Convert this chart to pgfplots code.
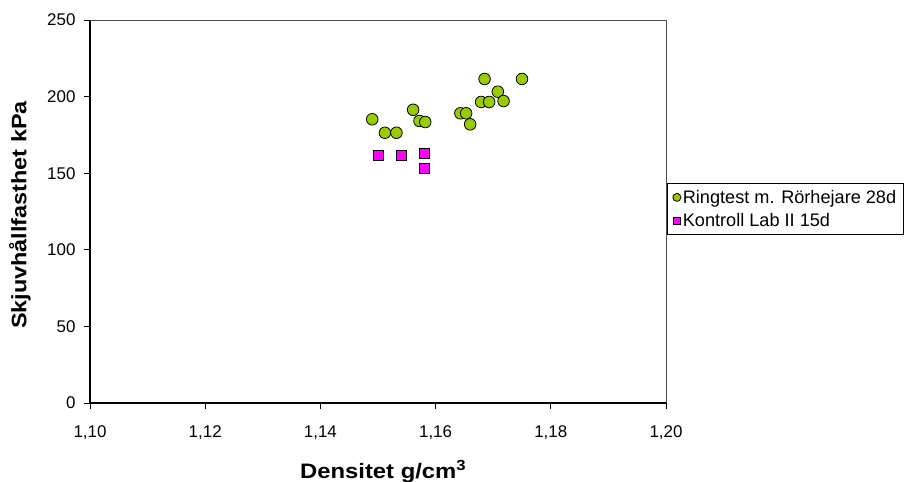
\documentclass[border=0pt]{standalone}
\usepackage{pgfplots}
\pgfplotsset{compat=1.18}
\usepackage{fontspec}
\setmainfont{Liberation Sans}
\definecolor{cgreen}{RGB}{153,204,0}
\definecolor{cmag}{RGB}{255,0,255}
\begin{document}
\begin{tikzpicture}
\begin{axis}[
  at={(0,0)}, anchor=south west,
  width=576bp, height=383bp, scale only axis,
  xmin=1.10, xmax=1.20, ymin=0, ymax=250,
  xtick={1.10,1.12,1.14,1.16,1.18,1.20},
  ytick={0,50,100,150,200,250},
  axis x line*=bottom, axis y line*=left,
  axis line style={black, line width=1.3bp, -},
  tick style={black, line width=0.8bp},
  tick align=outside, major tick length=6bp,
  /pgf/number format/assume math mode=true,
  x tick label style={/pgf/number format/.cd, fixed, fixed zerofill, precision=2, use comma, /tikz/.cd, yshift=-13bp},
  y tick label style={xshift=-5bp},
  ticklabel style={font=\fontsize{17}{20}\selectfont},
  xlabel={\scalebox{1.14}[1]{\bfseries Densitet g/cm\textsuperscript{3}}},
  ylabel={\scalebox{1.12}[1]{\bfseries Skjuvhållfasthet kPa}},
  xlabel style={at={(rel axis cs:0.509,-0.196)}, anchor=base, font=\fontsize{21}{24}\selectfont},
  ylabel style={at={(rel axis cs:-0.1215,0.491)}, anchor=center, font=\fontsize{21}{24}\selectfont},
  legend style={at={(rel axis cs:1.0017,0.574)}, anchor=north west, draw=black, line width=0.8bp,
    font=\fontsize{18.2}{22}\selectfont, inner xsep=5.5bp, inner ysep=4.5bp, row sep=5bp, legend cell align=left},
  legend cell align=left,
  clip=false,
]
\draw[gray!60!black, line width=0.9bp] (rel axis cs:0,1) -- (rel axis cs:1,1) -- (rel axis cs:1,0);
\addplot[only marks, mark=*, mark size=5.8bp, mark options={fill=cgreen, draw=black, line width=0.8bp},
  legend image post style={mark size=4bp}] coordinates {
  (1.1490,185.2) (1.1512,176.4) (1.1532,176.4) (1.1561,191.4) (1.1572,184.1)
  (1.1582,183.4) (1.1643,189.1) (1.1653,189.1) (1.1660,181.9) (1.1685,211.5)
  (1.1679,196.5) (1.1693,196.5) (1.1708,203.2) (1.1718,197.1) (1.1750,211.5)
};
\addlegendentry{Ringtest m. Rörhejare 28d}
\addplot[only marks, mark=square*, mark size=5bp, mark options={fill=cmag, draw=black, line width=0.8bp},
  legend image post style={mark size=3.5bp}] coordinates {
  (1.1500,161.9) (1.1540,161.9) (1.1580,163.2) (1.1580,153.2)
};
\addlegendentry{Kontroll Lab II 15d}
\end{axis}
\pgfresetboundingbox
\useasboundingbox (-90bp,-79bp) rectangle (818bp,403bp);
\end{tikzpicture}
\end{document}
